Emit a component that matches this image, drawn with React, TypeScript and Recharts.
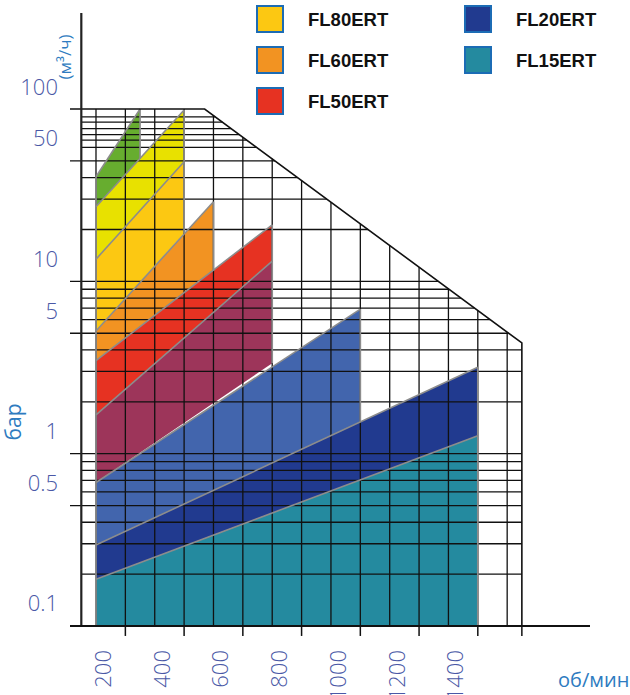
import React from 'react';
import { ComposedChart, Area, Line, XAxis, YAxis, Legend, Label } from 'recharts';

// область осей (об/мин по X, бар по Y, логарифм)
const X_MIN = 111.5;
const X_MAX = 1882;
const Y_MIN = 0.0829;
const Y_MAX = 361;
const AXIS_RPM = 150;
const RPM_START = 200;

const xTicks = [200, 400, 600, 800, 1000, 1200, 1400];
const yTicks = [100, 50, 10, 5, 1, 0.5, 0.1];
const xTickMarks = [300, 500, 700, 900, 1100, 1300, 1500, 1650];
const TICK_LOW = 0.0875;

// сетка
const gridRpm = [200, 300, 400, 500, 600, 700, 800, 900, 1000, 1100, 1200, 1300, 1400, 1500, 1600];
const gridBar = [
  90, 84, 77, 71, 66, 60, 50, 40, 30, 20,
  10, 9, 8, 7, 6, 5, 4, 3, 2,
  1, 0.9, 0.8, 0.7, 0.6, 0.5, 0.4, 0.3, 0.2,
];
const majorBar = [50, 10, 5, 1, 0.5];

// граница рабочей области
const envelopeRpm = [X_MIN, 570, 1650, 1650];
const envelopeBar = [100, 100, 4.39, 0.1];

// полосы насосов
const bandIds = ['green', 'lime', 'FL80ERT', 'FL60ERT', 'FL50ERT', 'maroon', 'blue', 'FL20ERT', 'FL15ERT'];
const bandEndRpm = [350, 500, 500, 600, 800, 800, 1100, 1500, 1500];
const bandTopAt200 = [40.5, 27.1, 13.45, 5.15, 3.47, 1.68, 0.68, 0.295, 0.187];
const bandTopAtEnd = [100, 98.8, 49.5, 29, 21.3, 13.1, 6.9, 3.17, 1.27];
const bandBottomAt200 = [27.1, 13.45, 5.15, 3.47, 1.68, 0.68, 0.295, 0.187, 0.1];
const bandBottomAtEnd = [51.7, 49.5, 19, 11.5, 13.1, 3.35, 1.52, 1.27, 0.1];
const bandColors = ['#67ad2f', '#e8e100', '#fcc812', '#f29322', '#e63222', '#9d355a', '#4265ad', '#213a8f', '#248a9f'];

const legendNames = ['FL80ERT', 'FL60ERT', 'FL50ERT', 'FL20ERT', 'FL15ERT'];
const legendColors = ['#fcc812', '#f29322', '#e63222', '#213a8f', '#248a9f'];

const TICK_COLOR = '#4a58a6';
const TITLE_COLOR = '#2e7bc0';
const EDGE = '#8c8c8c';
const FONT = '"Open Sans", "Noto Sans", sans-serif';

const lg = Math.log10;
const envTop = (r: number) =>
  r <= envelopeRpm[1]
    ? envelopeBar[1]
    : Math.pow(10, lg(envelopeBar[1]) + ((r - envelopeRpm[1]) / (envelopeRpm[2] - envelopeRpm[1])) * (lg(envelopeBar[2]) - lg(envelopeBar[1])));
const envRight = (v: number) =>
  v <= envelopeBar[2]
    ? envelopeRpm[2]
    : envelopeRpm[1] + ((lg(envelopeBar[1]) - lg(v)) / (lg(envelopeBar[1]) - lg(envelopeBar[2]))) * (envelopeRpm[2] - envelopeRpm[1]);

type P = { x: number; y: number };
const seg = (key: string, pts: P[], stroke: string, width: number) => (
  <Line
    key={key}
    data={pts}
    dataKey="y"
    type="linear"
    stroke={stroke}
    strokeWidth={width}
    dot={false}
    activeDot={false}
    legendType="none"
    isAnimationActive={false}
  />
);

const YTick = (props: any) => {
  const { x, y, payload } = props;
  return (
    <text x={x} y={y - 14.5} textAnchor="end" fill={TICK_COLOR} fontSize={22} fontWeight={300} fontFamily={FONT}>
      {payload.value}
    </text>
  );
};

const XTick = (props: any) => {
  const { x, y, payload } = props;
  const bx = x + 15;
  return (
    <text x={bx} y={y} transform={`rotate(-90 ${bx} ${y})`} textAnchor="end" fill={TICK_COLOR} fontSize={22} fontWeight={300} fontFamily={FONT}>
      {payload.value}
    </text>
  );
};

const renderLegend = () => (
  <svg width={380} height={120}>
    {legendNames.map((name, i) => {
      const col = i < 3 ? 0 : 1;
      const row = i < 3 ? i : i - 3;
      const sx = col === 0 ? 7 : 215;
      const sy = 6 + row * 41;
      return (
        <g key={name}>
          <rect x={sx} y={sy} width={26} height={26} fill={legendColors[i]} stroke="#1c6cb5" strokeWidth={2} />
          <text x={sx + 51} y={sy + 19.5} fontSize={18.5} fontWeight={700} fontFamily='"Liberation Sans", Arial, sans-serif' fill="#111">
            {name}
          </text>
        </g>
      );
    })}
  </svg>
);

export default function App() {
  const gridLines: React.ReactNode[] = [];
  gridBar.forEach((v) => {
    const left = majorBar.includes(v) ? X_MIN : AXIS_RPM;
    gridLines.push(seg(`h${v}`, [{ x: left, y: v }, { x: envRight(v), y: v }], '#111', 1.3));
  });
  gridRpm.forEach((r) => {
    gridLines.push(seg(`v${r}`, [{ x: r, y: 0.1 }, { x: r, y: envTop(r) }], '#111', 1.3));
  });

  const edges: React.ReactNode[] = [];
  edges.push(seg('left', [{ x: RPM_START, y: 0.1 }, { x: RPM_START, y: bandTopAt200[0] }], EDGE, 1.7));
  bandIds.forEach((id, i) => {
    edges.push(seg(`t${id}`, [{ x: RPM_START, y: bandTopAt200[i] }, { x: bandEndRpm[i], y: bandTopAtEnd[i] }], EDGE, 1.6));
    edges.push(seg(`r${id}`, [{ x: bandEndRpm[i], y: bandBottomAtEnd[i] }, { x: bandEndRpm[i], y: bandTopAtEnd[i] }], EDGE, 1.7));
  });

  return (
    <div style={{ position: 'absolute', left: 0, top: 0 }}>
      <ComposedChart width={630} height={695} margin={{ top: 13, right: 40, bottom: 10, left: 10 }}>
        <XAxis
          type="number"
          dataKey="x"
          domain={[X_MIN, X_MAX]}
          allowDataOverflow
          ticks={xTicks}
          interval={0}
          axisLine={false}
          tickLine={false}
          tickSize={0}
          tickMargin={10}
          height={45}
          tick={<XTick />}
        >
          <Label
            content={(p: any) => (
              <text x={p.viewBox.x + p.viewBox.width - 32} y={p.viewBox.y + 47} fill={TITLE_COLOR} fontSize={20} fontFamily={FONT}>
                об/мин
              </text>
            )}
          />
        </XAxis>
        <YAxis
          type="number"
          scale="log"
          domain={[Y_MIN, Y_MAX]}
          allowDataOverflow
          ticks={yTicks}
          interval={0}
          axisLine={false}
          tickLine={false}
          tickSize={0}
          tickMargin={12}
          width={60}
          tick={<YTick />}
        >
          <Label
            content={(p: any) => {
              const bx = p.viewBox.x + 11;
              const by = p.viewBox.y + 409;
              const mx = p.viewBox.x + 61;
              const my = p.viewBox.y + 44;
              return (
                <g>
                  <text x={bx} y={by} transform={`rotate(-90 ${bx} ${by})`} textAnchor="middle" fill={TITLE_COLOR} fontSize={21} fontFamily={FONT}>
                    бар
                  </text>
                  <text x={mx} y={my} transform={`rotate(-90 ${mx} ${my})`} textAnchor="middle" fill={TITLE_COLOR} fontSize={17} fontFamily={FONT}>
                    (м³/ч)
                  </text>
                </g>
              );
            }}
          />
        </YAxis>
        <Legend
          layout="horizontal"
          align="center"
          verticalAlign="middle"
          wrapperStyle={{ left: 250, top: 0, width: 380, height: 120 }}
          content={renderLegend}
        />

        {bandIds.map((id, i) => (
          <Area
            key={id}
            data={[
              { x: RPM_START, v: [bandBottomAt200[i], bandTopAt200[i]] },
              { x: bandEndRpm[i], v: [bandBottomAtEnd[i], bandTopAtEnd[i]] },
            ]}
            dataKey="v"
            type="linear"
            fill={bandColors[i]}
            fillOpacity={1}
            stroke="none"
            dot={false}
            activeDot={false}
            legendType="none"
            isAnimationActive={false}
          />
        ))}

        {gridLines}
        {edges}

        {xTickMarks.map((r) => seg(`tick${r}`, [{ x: r, y: 0.1 }, { x: r, y: TICK_LOW }], '#111', 1.5))}
        {seg('envelope', envelopeRpm.map((r, i) => ({ x: r, y: envelopeBar[i] })), '#111', 1.6)}
        {seg('yaxis', [{ x: AXIS_RPM, y: 0.1 }, { x: AXIS_RPM, y: Y_MAX }], '#222', 2.2)}
        {seg('xaxis', [{ x: X_MIN, y: 0.1 }, { x: X_MAX, y: 0.1 }], '#111', 2)}
      </ComposedChart>
    </div>
  );
}
